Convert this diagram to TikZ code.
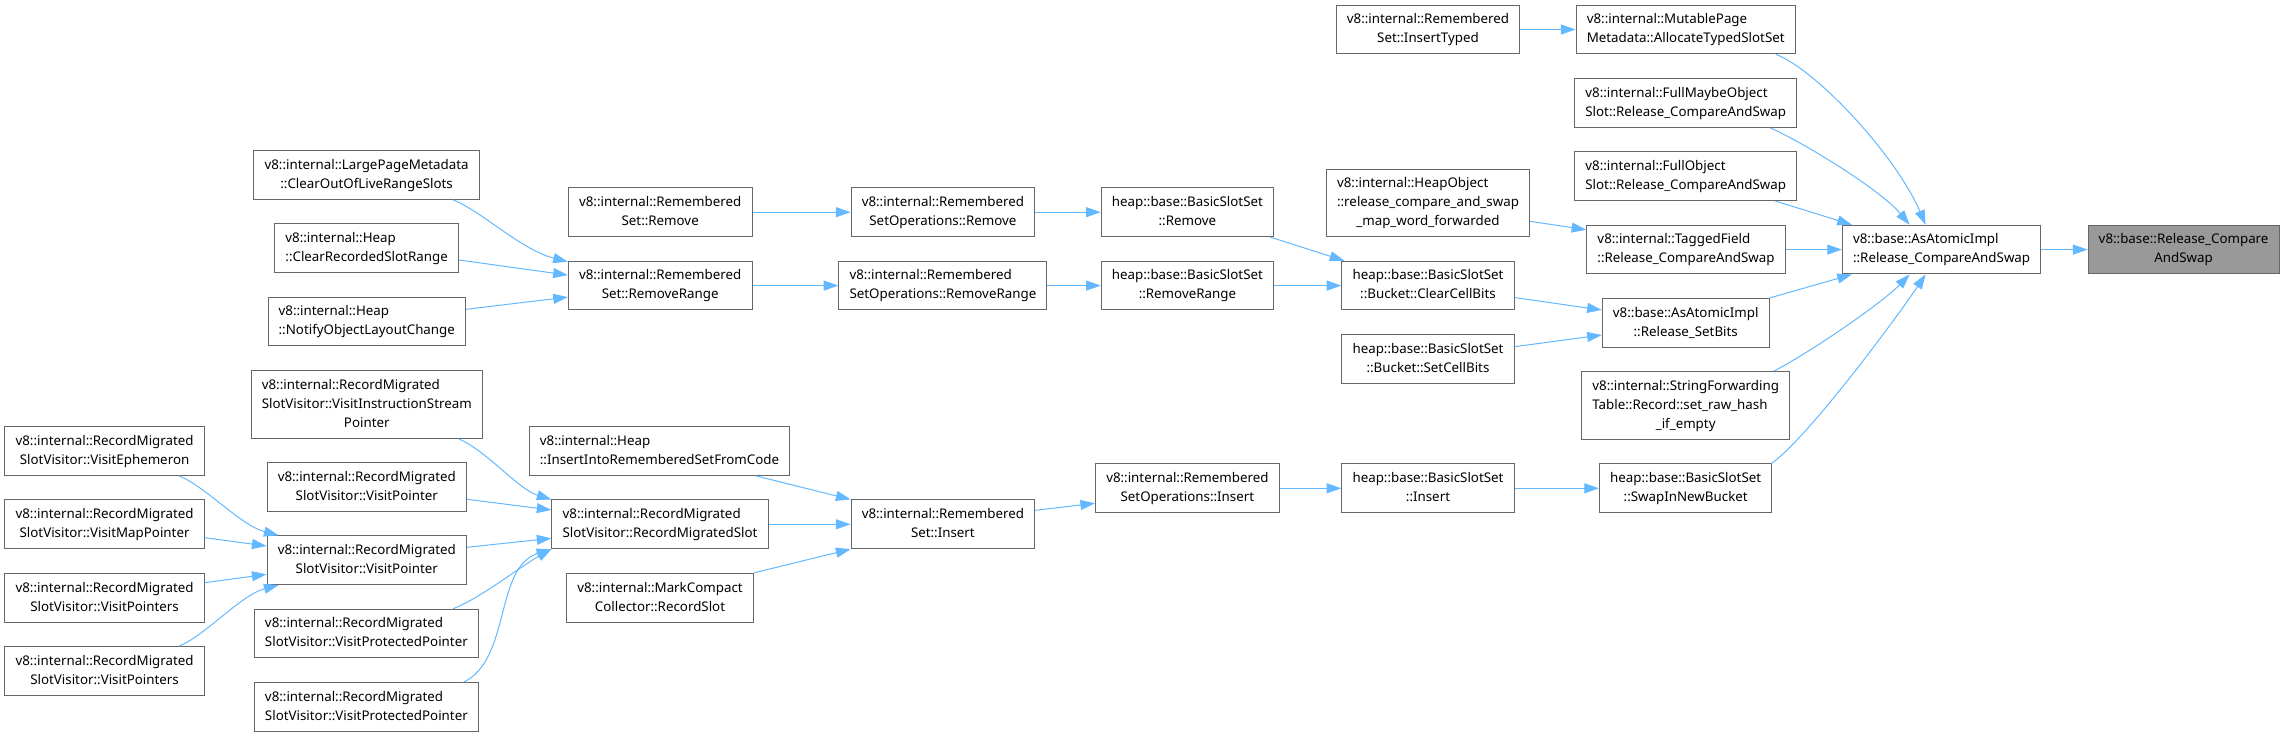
\documentclass[tikz,border=0pt]{standalone}
\usepackage{fontspec}
\setmainfont{Noto Sans}
\usetikzlibrary{arrows.meta,calc}
\definecolor{edgeblue}{HTML}{63B8FF}
\definecolor{boxline}{HTML}{666666}
\definecolor{boxfill}{HTML}{999999}
\newcommand\lbl[2]{\begin{tabular}{@{}l@{}}#1\\\multicolumn{1}{@{}c@{}}{#2}\end{tabular}}
\tikzset{
  fn/.style={draw=boxline, line width=0.75pt, fill=white, inner xsep=8pt, inner ysep=4pt},
  fnmain/.style={fn, fill=boxfill},
  call/.style={draw=edgeblue, line width=0.75pt, -{Triangle[length=11pt,width=7.5pt]}}
}

\begin{document}
\begin{tikzpicture}[x=0.75pt, y=-0.75pt, font=\fontsize{10}{14.25}\selectfont]
  \useasboundingbox (0,0) rectangle (2285,737);
  % --- hoejre side ---
  \node[fnmain] (tgt) at (2183.6,249.6) {\lbl{v8::base::Release\_Compare}{AndSwap}};
  \node[fn] (aai) at (1941.6,249.6) {\lbl{v8::base::AsAtomicImpl}{::Release\_CompareAndSwap}};
  \node[fn] (mpm) at (1685.7,29.5) {\lbl{v8::internal::MutablePage}{Metadata::AllocateTypedSlotSet}};
  \node[fn] (fmo) at (1685.7,103) {\lbl{v8::internal::FullMaybeObject}{Slot::Release\_CompareAndSwap}};
  \node[fn] (fo) at (1685.7,176.2) {\lbl{v8::internal::FullObject}{Slot::Release\_CompareAndSwap}};
  \node[fn] (tf) at (1686,249.6) {\lbl{v8::internal::TaggedField}{::Release\_CompareAndSwap}};
  \node[fn] (rsb) at (1685.7,322.8) {\lbl{v8::base::AsAtomicImpl}{::Release\_SetBits}};
  \node[fn] (sft) at (1685.7,405.5) {\lbl{v8::internal::StringForwarding\\Table::Record::set\_raw\_hash}{\_if\_empty}};
  \node[fn] (sinb) at (1685.7,488.3) {\lbl{heap::base::BasicSlotSet}{::SwapInNewBucket}};
  % --- BasicSlotSet ---
  \node[fn] (rsit) at (1428,29.5) {\lbl{v8::internal::Remembered}{Set::InsertTyped}};
  \node[fn] (homw) at (1428,203) {\lbl{v8::internal::HeapObject\\::release\_compare\_and\_swap}{\_map\_word\_forwarded}};
  \node[fn] (ccb) at (1428,285.6) {\lbl{heap::base::BasicSlotSet}{::Bucket::ClearCellBits}};
  \node[fn] (scb) at (1428,359) {\lbl{heap::base::BasicSlotSet}{::Bucket::SetCellBits}};
  \node[fn] (bssins) at (1428,488.3) {\lbl{heap::base::BasicSlotSet}{::Insert}};
  \node[fn] (bssrem) at (1187.4,212.2) {\lbl{heap::base::BasicSlotSet}{::Remove}};
  \node[fn] (bssrr) at (1187.4,285.6) {\lbl{heap::base::BasicSlotSet}{::RemoveRange}};
  \node[fn] (rsoins) at (1187.4,488.3) {\lbl{v8::internal::Remembered}{SetOperations::Insert}};
  % --- RememberedSet ---
  \node[fn] (rsorem) at (942.9,212.2) {\lbl{v8::internal::Remembered}{SetOperations::Remove}};
  \node[fn] (rsorr) at (942.9,285.6) {\lbl{v8::internal::Remembered}{SetOperations::RemoveRange}};
  \node[fn] (rsins) at (942.9,524.3) {\lbl{v8::internal::Remembered}{Set::Insert}};
  \node[fn] (rsrem) at (660.2,212.2) {\lbl{v8::internal::Remembered}{Set::Remove}};
  \node[fn] (rsrr) at (660.2,285.6) {\lbl{v8::internal::Remembered}{Set::RemoveRange}};
  \node[fn] (iirs) at (659.5,451) {\lbl{v8::internal::Heap}{::InsertIntoRememberedSetFromCode}};
  \node[fn] (rms) at (660,524.3) {\lbl{v8::internal::RecordMigrated}{SlotVisitor::RecordMigratedSlot}};
  \node[fn] (mccrs) at (660,597.7) {\lbl{v8::internal::MarkCompact}{Collector::RecordSlot}};
  % --- venstre side ---
  \node[fn] (lpm) at (366.6,175) {\lbl{v8::internal::LargePageMetadata}{::ClearOutOfLiveRangeSlots}};
  \node[fn] (crsr) at (366.6,248.3) {\lbl{v8::internal::Heap}{::ClearRecordedSlotRange}};
  \node[fn] (nolc) at (366.8,321.5) {\lbl{v8::internal::Heap}{::NotifyObjectLayoutChange}};
  \node[fn] (visp) at (366.8,404.7) {\lbl{v8::internal::RecordMigrated\\SlotVisitor::VisitInstructionStream}{Pointer}};
  \node[fn] (vp1) at (366.8,486.8) {\lbl{v8::internal::RecordMigrated}{SlotVisitor::VisitPointer}};
  \node[fn] (vp2) at (366.8,560.2) {\lbl{v8::internal::RecordMigrated}{SlotVisitor::VisitPointer}};
  \node[fn] (vpp1) at (366.4,633.5) {\lbl{v8::internal::RecordMigrated}{SlotVisitor::VisitProtectedPointer}};
  \node[fn] (vpp2) at (366.4,706.8) {\lbl{v8::internal::RecordMigrated}{SlotVisitor::VisitProtectedPointer}};
  \node[fn] (eph) at (104.6,451) {\lbl{v8::internal::RecordMigrated}{SlotVisitor::VisitEphemeron}};
  \node[fn] (mapp) at (104.6,524.3) {\lbl{v8::internal::RecordMigrated}{SlotVisitor::VisitMapPointer}};
  \node[fn] (vps1) at (104.6,597.7) {\lbl{v8::internal::RecordMigrated}{SlotVisitor::VisitPointers}};
  \node[fn] (vps2) at (104.6,671) {\lbl{v8::internal::RecordMigrated}{SlotVisitor::VisitPointers}};
  % --- kald ---
  \draw[call] (aai) -- (tgt);
  \draw[call] (rsit) -- (mpm);
  \draw[call] ($(mpm.south east)+(-20,0)$) .. controls +(40,15) and +(-30,-70) .. ($(aai.north)+(-16,0)$);
  \draw[call] ($(fmo.south east)+(-27,0)$) .. controls +(32,14) and +(-29,-35) .. ($(aai.north)+(-32,0)$);
  \draw[call] ($(fo.south east)+(-22,0)$) -- ($(aai.north west)+(10,0)$);
  \draw[call] (tf) -- (aai);
  \draw[call] (rsb.north east) -- ($(aai.south west)+(10,0)$);
  \draw[call] ($(sft.north east)+(-16.6,0)$) .. controls +(32,-16) and +(-29,30) .. ($(aai.south)+(-32,0)$);
  \draw[call] ($(sinb.north east)+(-1,0)$) .. controls +(35,-24) and +(-30,45) .. ($(aai.south)+(-16,0)$);
  \draw[call] ($(homw.south east)+(0,-16)$) -- ($(tf.north west)+(0,5)$);
  \draw[call] ($(ccb.east)+(0,12)$) -- ($(rsb.west)+(0,-12.8)$);
  \draw[call] ($(scb.east)+(0,-12.3)$) -- ($(rsb.west)+(0,12.2)$);
  \draw[call] ($(bssrem.south east)+(-4,0)$) -- ($(ccb.north west)+(3,0)$);
  \draw[call] (bssrr) -- (ccb);
  \draw[call] (rsorem) -- (bssrem);
  \draw[call] (rsorr) -- (bssrr);
  \draw[call] (rsrem) -- (rsorem);
  \draw[call] (rsrr) -- (rsorr);
  \draw[call] ($(lpm.south east)+(-27,0)$) .. controls +(27,10) and +(-47,-12) .. ($(rsrr.north west)+(0,1)$);
  \draw[call] ($(crsr.east)+(0,11.7)$) -- ($(rsrr.west)+(0,-10.5)$);
  \draw[call] ($(nolc.east)+(0,-12.2)$) -- ($(rsrr.west)+(0,11.5)$);
  \draw[call] ($(rsins.east)+(0,-14)$) -- ($(rsoins.west)+(0,15)$);
  \draw[call] (rsoins) -- (bssins);
  \draw[call] (bssins) -- (sinb);
  \draw[call] ($(iirs.south east)+(-34.6,0)$) -- (rsins.north west);
  \draw[call] (rms) -- (rsins);
  \draw[call] (mccrs.north east) -- (rsins.south west);
  \draw[call] ($(visp.south east)+(-24,0)$) .. controls +(28,12) and +(-33,-10) .. (rms.north west);
  \draw[call] ($(vp1.east)+(0,12.5)$) -- ($(rms.west)+(0,-14.3)$);
  \draw[call] ($(vp2.east)+(0,-12.9)$) -- ($(rms.west)+(0,14)$);
  \draw[call] ($(vpp1.north east)+(-25.7,0)$) .. controls +(28,-11) and +(-32,18) .. (rms.south west);
  \draw[call] ($(vpp2.north east)+(-15,0)$) .. controls +(47,-23) and +(-57,18) .. (rms.south west);
  \draw[call] ($(eph.south east)+(-26,0)$) .. controls +(26,10) and +(-38,-10) .. ($(vp2.north west)+(12,0)$);
  \draw[call] ($(mapp.east)+(0,13.4)$) -- ($(vp2.west)+(0,-14.2)$);
  \draw[call] ($(vps1.east)+(0,-15)$) -- ($(vp2.west)+(0,14.1)$);
  \draw[call] ($(vps2.north east)+(-26,0)$) .. controls +(26,-10) and +(-38,10) .. ($(vp2.south west)+(12,0)$);
\end{tikzpicture}
\end{document}
